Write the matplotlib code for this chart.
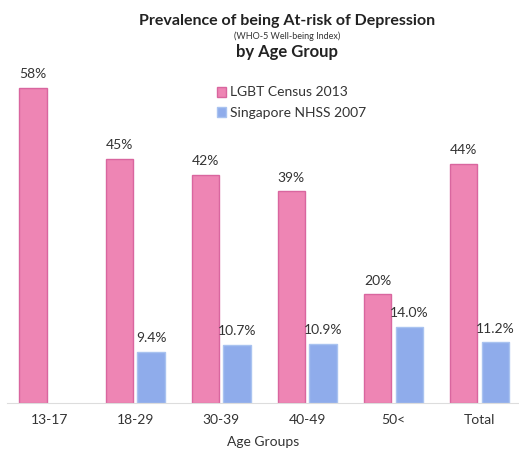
import numpy as np
import matplotlib
matplotlib.use("Agg")
import matplotlib.pyplot as plt
from matplotlib.patches import Patch

groups = ["13-17", "18-29", "30-39", "40-49", "50<", "Total"]
lgbt = [58, 45, 42, 39, 20, 44]
nhss = [None, 9.4, 10.7, 10.9, 14.0, 11.2]
lgbt_labels = ["58%", "45%", "42%", "39%", "20%", "44%"]
nhss_labels = ["", "9.4%", "10.7%", "10.9%", "14.0%", "11.2%"]

plt.rcParams['font.family'] = ['Lato', 'DejaVu Sans']

W, H = 519, 449
fig = plt.figure(figsize=(W / 100, H / 100), dpi=100)
ax = fig.add_axes([7 / W, (H - 403) / H, 512 / W, 402 / H])

x = np.arange(len(groups))
w = 0.32
off = 0.185
pink = "#EE85B4"
pink_edge = "#D9669F"
blue = "#8FACEB"
blue_edge = "#A9C3F0"

ax.bar(x - off, lgbt, w, color=pink, edgecolor=pink_edge, linewidth=1)
nx = [xi + off for xi, v in zip(x, nhss) if v is not None]
nv = [v for v in nhss if v is not None]
ax.bar(nx, nv, w, color=blue, edgecolor=blue_edge, linewidth=1)

for xi, v, t in zip(x, lgbt, lgbt_labels):
    ax.text(xi - off, v + 1.4, t, ha="center", va="bottom", fontsize=10, color="#333333")
for xi, v, t in zip(x, nhss, nhss_labels):
    if v is not None:
        ax.text(xi + off, v + 1.4, t, ha="center", va="bottom", fontsize=10, color="#333333")

ax.set_xlim(-0.49, 5.46)
ax.set_ylim(0, 74)
ax.set_xticks(x)
ax.set_xticklabels(groups, fontsize=10, color="#333333")
ax.tick_params(axis="x", length=0, pad=8)
ax.set_yticks([])
for s in ["top", "right", "left"]:
    ax.spines[s].set_visible(False)
ax.spines["bottom"].set_color("#dddddd")
ax.set_xlabel("Age Groups", fontsize=10, color="#333333", labelpad=7)

fig.text(287 / W, 1 - 21 / H, "Prevalence of being At-risk of Depression",
         ha="center", va="center", fontsize=11.5, fontweight="bold", color="#222222")
fig.text(287 / W, 1 - 36 / H, "(WHO-5 Well-being Index)",
         ha="center", va="center", fontsize=6.5, color="#333333")
fig.text(287 / W, 1 - 52 / H, "by Age Group",
         ha="center", va="center", fontsize=12, fontweight="bold", color="#222222")

handles = [Patch(facecolor=pink, edgecolor=pink_edge, label="LGBT Census 2013"),
           Patch(facecolor=blue, edgecolor=blue_edge, label="Singapore NHSS 2007")]
fig.legend(handles=handles, loc="upper left", bbox_to_anchor=(204 / W, 1 - 74 / H),
           frameon=False, fontsize=10, handlelength=0.7, handleheight=0.7,
           handletextpad=0.3, labelspacing=0.6, labelcolor="#333333")

fig.savefig("out.png", dpi=100)
